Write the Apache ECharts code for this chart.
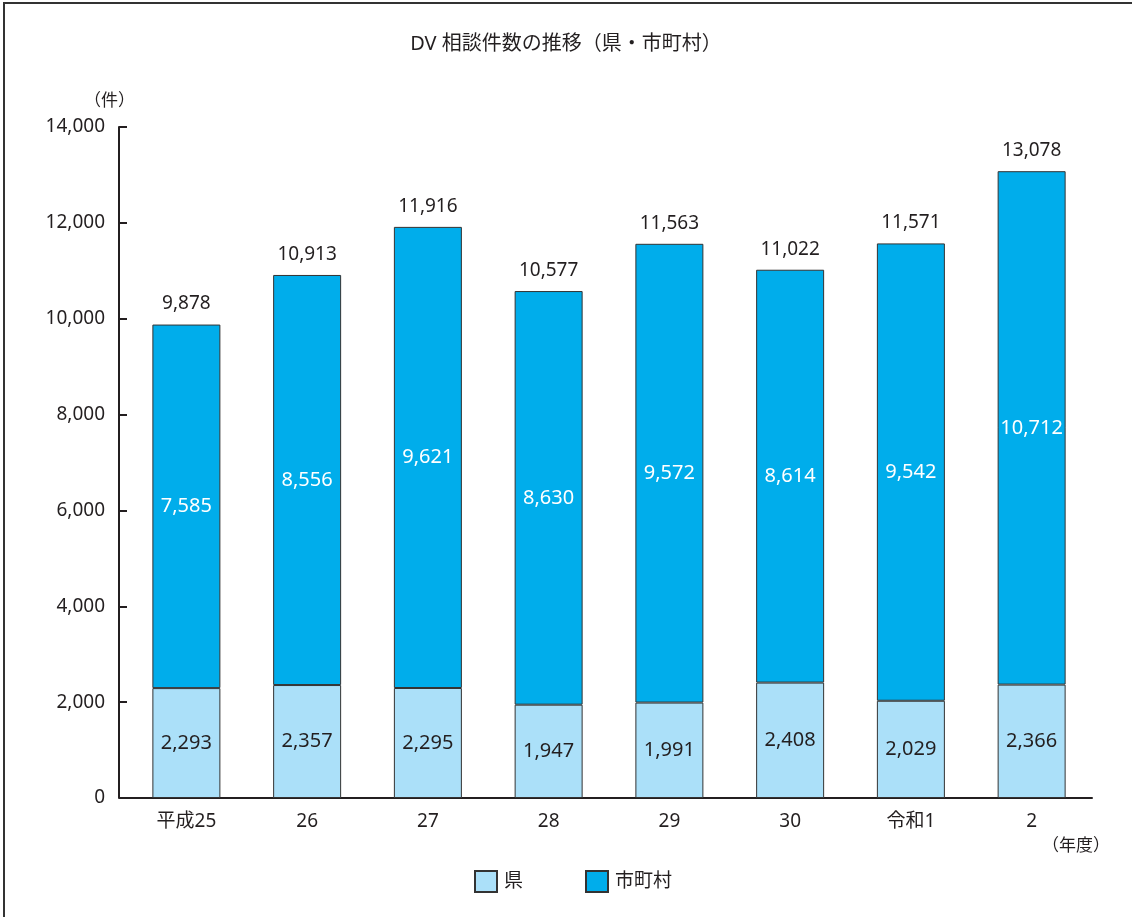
<!DOCTYPE html>
<html>
<head>
<meta charset="utf-8">
<script src="https://cdn.jsdelivr.net/npm/echarts@6/dist/echarts.min.js"></script>
<style>
html, body { margin: 0; padding: 0; background: #fff; }
#frame {
  position: absolute; left: 3px; top: 2px; width: 1129px; height: 915px;
  border-top: 2px solid #333; border-left: 2px solid #333; box-sizing: border-box;
}
#chart { position: absolute; left: 0; top: 0; width: 1132px; height: 917px; }
</style>
</head>
<body>
<div id="frame"></div>
<div id="chart"></div>
<script>
// 年度
var categories = ['平成25', '26', '27', '28', '29', '30', '令和1', '2'];
// 県
var prefValues = [2293, 2357, 2295, 1947, 1991, 2408, 2029, 2366];
// 市町村
var muniValues = [7585, 8556, 9621, 8630, 9572, 8614, 9542, 10712];
// 合計
var totals = [9878, 10913, 11916, 10577, 11563, 11022, 11571, 13078];
var yTicks = [0, 2000, 4000, 6000, 8000, 10000, 12000, 14000];

var fontFamily = '"Noto Sans", "Noto Sans CJK JP", sans-serif';
var textColor = '#231f20';

function fmt(v) {
  return String(v).replace(/\B(?=(\d{3})+(?!\d))/g, ',');
}

var chart = echarts.init(document.getElementById('chart'));

var option = {
  backgroundColor: 'transparent',
  animation: false,
  textStyle: { fontFamily: fontFamily, color: textColor },
  title: {
    text: 'DV 相談件数の推移（県・市町村）',
    left: 'center',
    top: 29,
    textStyle: { fontFamily: fontFamily, fontSize: 20, fontWeight: 'normal', color: textColor }
  },
  legend: {
    data: ['県', '市町村'],
    left: 469,
    top: 865,
    itemWidth: 22,
    itemHeight: 21,
    itemGap: 62,
    icon: 'rect',
    textStyle: { fontFamily: fontFamily, fontSize: 19, color: textColor, padding: [0, 0, 0, 2] }
  },
  grid: {
    left: 126,
    right: 40,
    top: 127,
    bottom: 917 - 798
  },
  xAxis: {
    type: 'category',
    data: categories,
    axisLine: { lineStyle: { color: '#231f20', width: 2 } },
    axisTick: { show: false },
    axisLabel: { fontFamily: fontFamily, fontSize: 19, color: textColor, margin: 14 }
  },
  yAxis: {
    type: 'value',
    min: yTicks[0],
    max: yTicks[yTicks.length - 1],
    interval: 2000,
    offset: 7,
    name: '（件）',
    nameGap: 17,
    nameTextStyle: { fontFamily: fontFamily, fontSize: 17, color: textColor, align: 'left', padding: [0, 0, 0, -35] },
    axisLine: { show: true, lineStyle: { color: '#231f20', width: 2 } },
    axisTick: { show: true, inside: true, length: 8, lineStyle: { color: '#231f20', width: 2 } },
    splitLine: { show: false },
    axisLabel: {
      fontFamily: fontFamily, fontSize: 19, color: textColor, margin: 14,
      formatter: function (v) { return fmt(v); }
    }
  },
  graphic: [{
    type: 'text',
    left: 1042,
    top: 838,
    style: { text: '（年度）', fontFamily: fontFamily, fontSize: 17, fill: textColor }
  }],
  series: [{
    name: '県',
    type: 'bar',
    stack: 'total',
    barWidth: 68,
    data: prefValues,
    itemStyle: { color: '#abe0f9', borderColor: '#333333', borderWidth: 1 },
    label: {
      show: true, position: 'inside', fontFamily: fontFamily, fontSize: 20, color: textColor,
      formatter: function (p) { return fmt(p.value); }
    }
  }, {
    name: '市町村',
    type: 'bar',
    stack: 'total',
    barWidth: 68,
    data: muniValues,
    itemStyle: { color: '#00adeb', borderColor: '#333333', borderWidth: 1 },
    label: {
      show: true, position: 'inside', fontFamily: fontFamily, fontSize: 20, color: '#ffffff',
      formatter: function (p) { return fmt(p.value); }
    }
  }, {
    name: '合計',
    type: 'bar',
    stack: 'total',
    barWidth: 68,
    data: totals.map(function () { return 0; }),
    itemStyle: { color: 'transparent' },
    label: {
      show: true, position: 'top', distance: 11, fontFamily: fontFamily, fontSize: 19, color: textColor,
      formatter: function (p) { return fmt(totals[p.dataIndex]); }
    }
  }]
};

chart.setOption(option);
</script>
</body>
</html>
